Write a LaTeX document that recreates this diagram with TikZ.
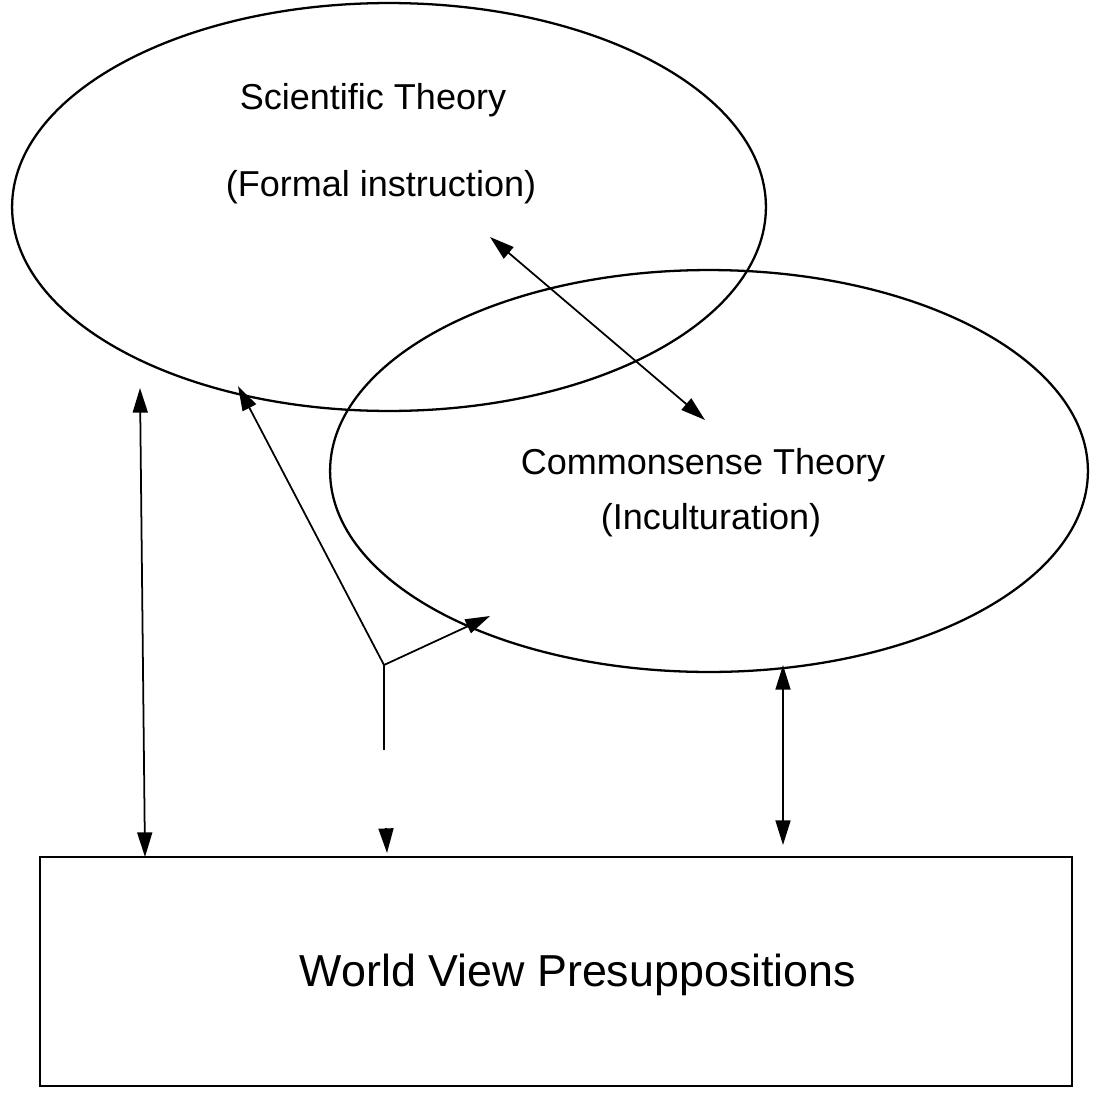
\documentclass[tikz,border=0pt]{standalone}
\usepackage{fontspec}
\setmainfont{Liberation Sans}
\usetikzlibrary{arrows.meta,shapes.geometric}
\begin{document}
\begin{tikzpicture}[x=0.02cm,y=-0.02cm,
  outline/.style={draw=black,line width=1.3pt,inner sep=0pt},
  link/.style={draw=black,line width=1pt},
  tipone/.style={-{Triangle[length=14pt,width=8.5pt]}},
  tipboth/.style={{Triangle[length=14pt,width=8.5pt]}-{Triangle[length=14pt,width=8.5pt]}},
  lbl/.style={font=\fontsize{20.5}{24}\selectfont,inner sep=0pt},
  biglbl/.style={font=\fontsize{25.5}{30}\selectfont,inner sep=0pt}]
\useasboundingbox[fill=white] (0,0) rectangle (1104,1092);
% shapes
\node[outline,ellipse,minimum width=15.08cm,minimum height=8.16cm] (sci) at (389,207) {};
\node[outline,ellipse,minimum width=15.16cm,minimum height=8.04cm] (com) at (709,471) {};
\node[outline,rectangle,minimum width=20.64cm,minimum height=4.58cm] (wv) at (556,971.5) {};
% texts
\node[lbl] (t1) at (373,100) {Scientific Theory};
\node[lbl] (t2) at (381,187) {(Formal instruction)};
\node[lbl] (t3) at (703,465) {Commonsense Theory};
\node[lbl] (t4) at (711,520) {(Inculturation)};
\node[biglbl] (t5) at (578,975) {World View Presuppositions};
% connector points
\coordinate (a1) at (490,237);
\coordinate (a2) at (705,420);
\coordinate (l1) at (140,388);
\coordinate (l2) at (145,857);
\coordinate (r1) at (783,665);
\coordinate (r2) at (783,845);
\coordinate (j) at (384,665);
\coordinate (u) at (238,386);
\coordinate (r) at (490,616);
\coordinate (d) at (384,750);
\coordinate (h1) at (386,828);
\coordinate (h2) at (387,853);
% connectors
\draw[link,tipboth] (a1) -- (a2);
\draw[link,tipboth] (l1) -- (l2);
\draw[link,tipboth] (r1) -- (r2);
\draw[link,tipone] (j) -- (u);
\draw[link,tipone] (j) -- (r);
\draw[link] (j) -- (d);
\draw[link,tipone] (h1) -- (h2);
\end{tikzpicture}
\end{document}
